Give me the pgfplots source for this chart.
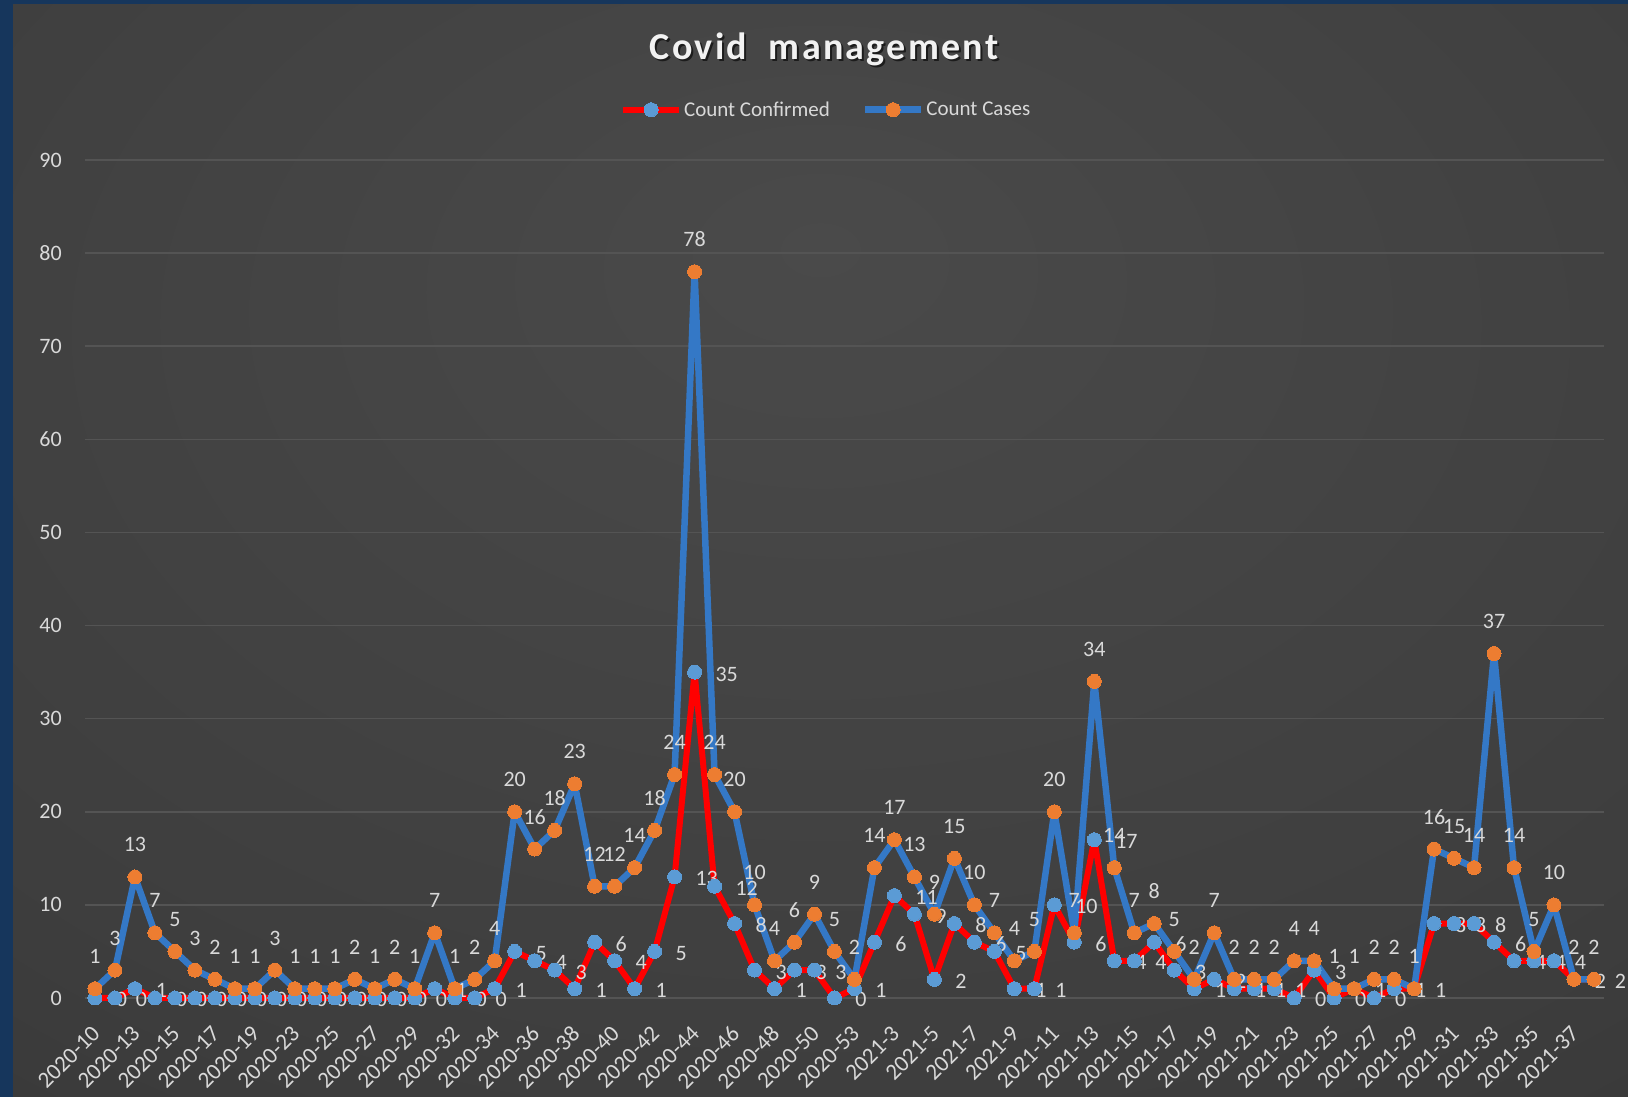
\documentclass[border=0pt]{standalone}
\usepackage{fontspec}
\setmainfont{Carlito}
\newfontfamily\titlefont[LetterSpace=6]{Carlito}
\usepackage{pgfplots}
\pgfplotsset{compat=1.18}
\usepackage{pgfplotstable}

\definecolor{navy}{RGB}{22,54,92}
\definecolor{gridc}{RGB}{84,84,84}
\definecolor{txt}{RGB}{217,217,217}
\definecolor{redl}{RGB}{255,0,0}
\definecolor{bluel}{RGB}{52,120,198}
\definecolor{bluem}{RGB}{91,155,213}
\definecolor{orangem}{RGB}{237,125,49}

\pgfdeclareradialshading{bgshade}{\pgfpoint{0bp}{14bp}}{rgb(0bp)=(0.29,0.29,0.29); rgb(35bp)=(0.24,0.24,0.24); rgb(80bp)=(0.14,0.14,0.14)}

\pgfplotstableread{
x conf cases
0 0 1
1 0 3
2 1 13
3 0 7
4 0 5
5 0 3
6 0 2
7 0 1
8 0 1
9 0 3
10 0 1
11 0 1
12 0 1
13 0 2
14 0 1
15 0 2
16 0 1
17 1 7
18 0 1
19 0 2
20 1 4
21 5 20
22 4 16
23 3 18
24 1 23
25 6 12
26 4 12
27 1 14
28 5 18
29 13 24
30 35 78
31 12 24
32 8 20
33 3 10
34 1 4
35 3 6
36 3 9
37 0 5
38 1 2
39 6 14
40 11 17
41 9 13
42 2 9
43 8 15
44 6 10
45 5 7
46 1 4
47 1 5
48 10 20
49 6 7
50 17 34
51 4 14
52 4 7
53 6 8
54 3 5
55 1 2
56 2 7
57 1 2
58 1 2
59 1 2
60 0 4
61 3 4
62 0 1
63 1 1
64 0 2
65 1 2
66 1 1
67 8 16
68 8 15
69 8 14
70 6 37
71 4 14
72 4 5
73 4 10
74 2 2
75 2 2
}\datatable

\begin{document}
\begin{tikzpicture}
\useasboundingbox (0,0) rectangle (1628pt,1097pt);
\fill[navy] (0,0) rectangle (1628pt,1097pt);
\shade[shading=bgshade] (13pt,0) rectangle (1628pt,1092pt);

\node[text=black, opacity=0.6, font=\titlefont\bfseries\fontsize{38}{42}\selectfont] at (826pt,1046pt) {Covid\ \ management};
\node[text=white!95!black, font=\titlefont\bfseries\fontsize{38}{42}\selectfont] at (824pt,1048pt) {Covid\ \ management};

\begin{axis}[
  at={(85pt,99pt)}, anchor=south west,
  scale only axis, width=1519pt, height=838pt,
  xmin=-0.5, xmax=75.5, ymin=0, ymax=90,
  clip=false,
  axis line style={draw=none},
  tick style={draw=none},
  major tick length=0pt,
  ytick={0,10,...,90},
  ymajorgrids, grid style={gridc, line width=1.5pt},
  xtick={0,2,...,74},
  xticklabels={2020-10,2020-13,2020-15,2020-17,2020-19,2020-23,2020-25,2020-27,2020-29,2020-32,2020-34,2020-36,2020-38,2020-40,2020-42,2020-44,2020-46,2020-48,2020-50,2020-53,2021-3,2021-5,2021-7,2021-9,2021-11,2021-13,2021-15,2021-17,2021-19,2021-21,2021-23,2021-25,2021-27,2021-29,2021-31,2021-33,2021-35,2021-37},
  /pgf/number format/assume math mode=true,
  yticklabel style={font=\fontsize{22}{24}\selectfont, text=txt, inner sep=0pt, xshift=-23pt},
  xticklabel style={font=\fontsize{23}{25}\selectfont, text=txt, inner sep=0pt, xshift=1pt, yshift=-32pt, rotate=45, anchor=east},
  legend style={at={(0.488,1.06)}, anchor=center, draw=none, fill=none, text=txt,
     font=\fontsize{21}{23}\selectfont, legend columns=2,
     /tikz/every even column/.append style={column sep=30pt},
     nodes={inner sep=2pt}},
  legend image code/.code={\draw[mark repeat=2,mark phase=2,#1] plot coordinates {(0pt,0pt) (28pt,0pt) (56pt,0pt)};},
]
\addplot[draw=redl, line width=6pt, line join=round, mark=*, mark size=7pt,
   mark options={fill=bluem, draw=bluem, line width=0pt},
   nodes near coords,
   every node near coord/.append style={anchor=base west, xshift=21pt, yshift=-9pt, inner sep=0pt, text=txt, font=\fontsize{22}{24}\selectfont}]
   table[x=x, y=conf] {\datatable};
\addlegendentry{Count Confirmed}
\addplot[draw=bluel, line width=6.5pt, line join=round, mark=*, mark size=7pt,
   mark options={fill=orangem, draw=orangem, line width=0pt},
   nodes near coords,
   every node near coord/.append style={anchor=base, yshift=25pt, inner sep=0pt, text=txt, font=\fontsize{22}{24}\selectfont}]
   table[x=x, y=cases] {\datatable};
\addlegendentry{Count Cases}
\end{axis}
\end{tikzpicture}
\end{document}
